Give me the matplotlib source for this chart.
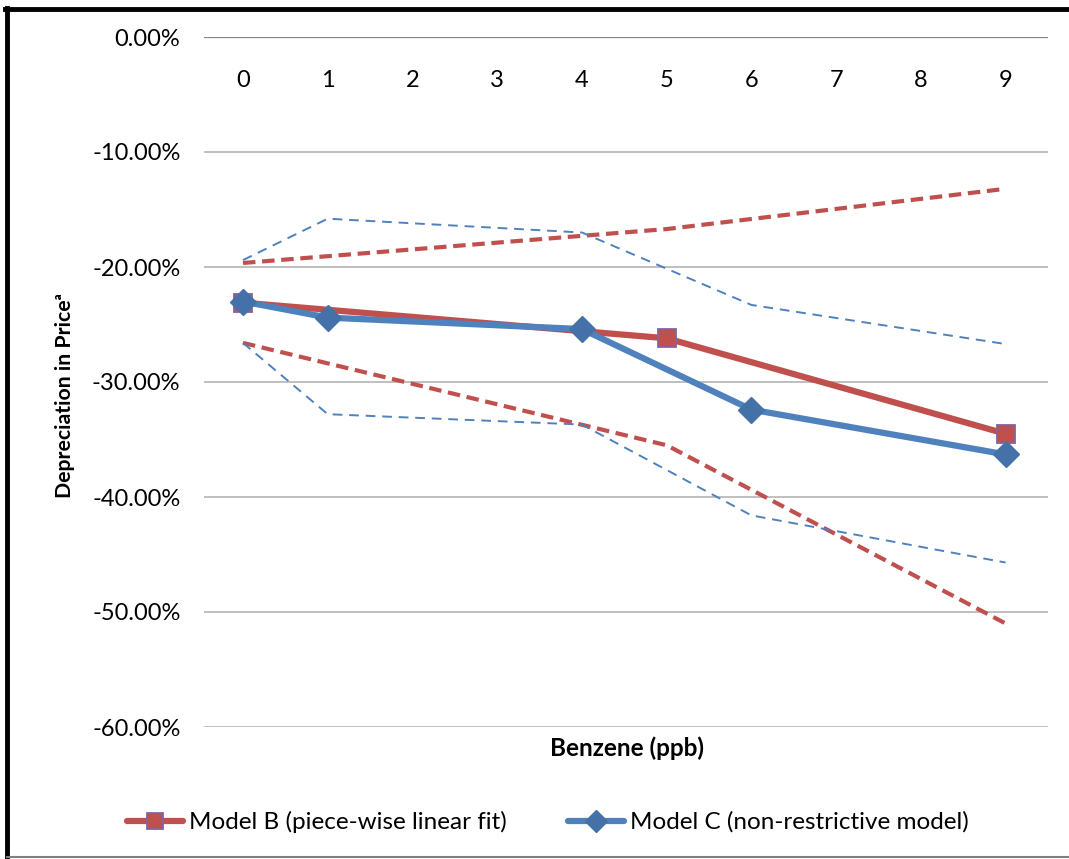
import matplotlib
matplotlib.use("Agg")
import matplotlib.pyplot as plt
from matplotlib.lines import Line2D
from matplotlib.ticker import FuncFormatter

plt.rcParams['font.family'] = ['Lato', 'DejaVu Sans']

categories = [0, 1, 2, 3, 4, 5, 6, 7, 8, 9]

b_x = [0, 5, 9]
b_mid = [-0.231, -0.262, -0.345]
b_upper = [-0.1965, -0.167, -0.132]
b_lower = [-0.266, -0.355, -0.510]

c_x = [0, 1, 4, 6, 9]
c_mid = [-0.230, -0.244, -0.254, -0.324, -0.363]
c_upper = [-0.194, -0.158, -0.170, -0.233, -0.267]
c_lower = [-0.266, -0.328, -0.337, -0.416, -0.457]

y_ticks = [0.0, -0.1, -0.2, -0.3, -0.4, -0.5, -0.6]

RED = '#C0504D'
BLUE = '#4F81BD'
BLUE_M = '#4472A8'
PURPLE = '#8064A2'

W, H = 1069, 859
fig = plt.figure(figsize=(W / 100, H / 100), dpi=100)
left, right, top, bottom = 204, 1048, 37, 727
ax = fig.add_axes([left / W, 1 - bottom / H, (right - left) / W, (bottom - top) / H])

ax.set_xlim(-0.46, 9.5)
ax.set_ylim(-0.6, 0.0)
ax.set_yticks(y_ticks)
ax.yaxis.set_major_formatter(FuncFormatter(lambda v, p: f"{v*100:.2f}%"))
ax.grid(axis='y', color='#BFBFBF', linewidth=1.4)
ax.set_axisbelow(True)
for s in ax.spines.values():
    s.set_visible(False)
ax.axhline(0, color='#868686', linewidth=1.6, zorder=1)
ax.tick_params(axis='y', length=0, pad=17, labelsize=17, colors='black')
ax.set_xticks([])

for c in categories:
    ax.text(c, -0.0375, str(c), ha='center', va='center', fontsize=17)

# confidence bands
ax.plot(b_x, b_upper, color=RED, lw=3, ls=(0, (3, 1.6)), zorder=2)
ax.plot(b_x, b_lower, color=RED, lw=3, ls=(0, (3, 1.6)), zorder=2)
ax.plot(c_x, c_upper, color=BLUE, lw=1.4, ls=(0, (5, 3.5)), zorder=2)
ax.plot(c_x, c_lower, color=BLUE, lw=1.4, ls=(0, (5, 3.5)), zorder=2)

ax.plot(b_x, b_mid, color=RED, lw=4.5, marker='s', markersize=13,
        markerfacecolor=RED, markeredgecolor=PURPLE, markeredgewidth=1.3,
        label='Model B (piece-wise linear fit)', zorder=3, solid_capstyle='round')
ax.plot(c_x, c_mid, color=BLUE, lw=4.5, marker='D', markersize=13,
        markerfacecolor=BLUE_M, markeredgecolor=BLUE_M,
        label='Model C (non-restrictive model)', zorder=4, solid_capstyle='round')

fig.text(627 / W, 1 - 748 / H, 'Benzene (ppb)', ha='center', va='center',
         fontsize=17.5, fontweight='bold')
fig.text(65 / W, 1 - 396 / H, 'Depreciation in Price\u1d43', ha='center', va='center',
         rotation=90, fontsize=15.3, fontweight='bold')

leg = fig.legend(loc='center', bbox_to_anchor=(548 / W, 1 - 822 / H), ncol=2,
                 frameon=False, fontsize=17.5, handlelength=2.3, handletextpad=0.25,
                 columnspacing=2.5, markerscale=0.85)

# chart border
fig.add_artist(Line2D([7 / W, 7 / W], [0.0, 1 - 8 / H], color='black', lw=3.5,
                      transform=fig.transFigure))
fig.add_artist(Line2D([5 / W, 1.0], [1 - 9 / H, 1 - 9 / H], color='black', lw=3.5,
                      transform=fig.transFigure))
fig.add_artist(Line2D([7 / W, 1.0], [1 - 857 / H, 1 - 857 / H], color='#808080', lw=1.5,
                      transform=fig.transFigure))

fig.savefig('out.png', dpi=100, facecolor='white')
